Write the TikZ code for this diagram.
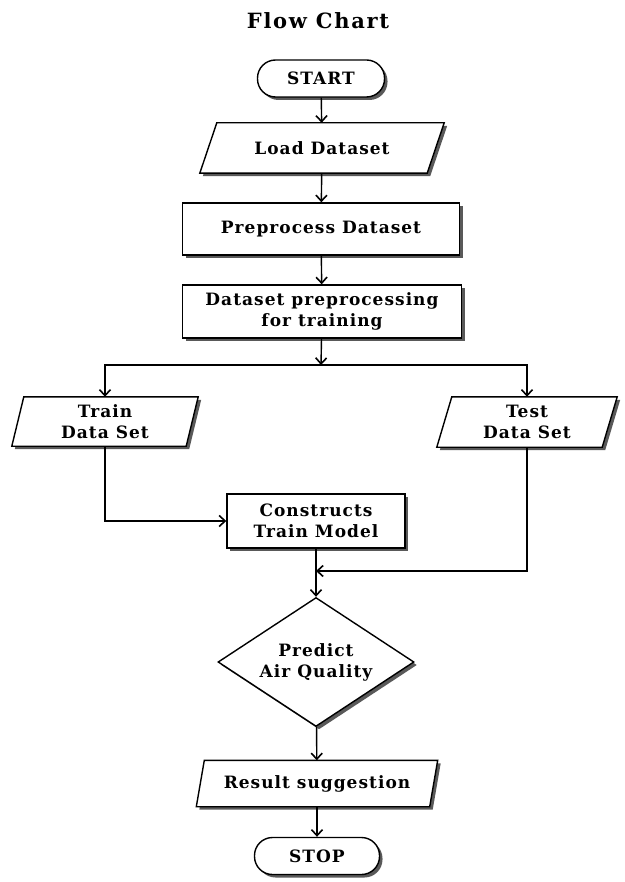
\documentclass[tikz,border=0pt]{standalone}
\usepackage{fontspec}
\setmainfont{DejaVu Serif}
\newfontfamily\boxfont[LetterSpace=6]{DejaVu Serif}
\newfontfamily\titlefont[LetterSpace=8]{DejaVu Serif}
\usetikzlibrary{shapes.geometric,shadows,arrows.meta}
\pgfdeclarelayer{background}
\pgfsetlayers{background,main}
\tikzset{
  shade/.style={drop shadow={shadow xshift=3pt, shadow yshift=-3pt, fill=black!65, opacity=1}},
  txt/.style={align=center, font=\boxfont\bfseries\fontsize{17}{21}\selectfont, inner sep=0pt},
  base/.style={txt, draw=black, line width=1.4pt, fill=white, shade},
  term/.style={base, rectangle, rounded corners=18pt},
  proc/.style={base, rectangle},
  io/.style={txt, rectangle},
  iobox/.style={draw=black, line width=1.4pt, fill=white, shade},
  dec/.style={base, diamond, aspect=1.5},
  arr/.style={draw=black, line width=1.4pt, -{Straight Barb[length=6pt,width=11pt,line width=1.6pt]}}
}
\newcommand{\iopar}[2]{%
  \begin{pgfonlayer}{background}
  \path[iobox] ([xshift=-#2pt]#1.south west) -- ([xshift=#2pt]#1.north west)
     -- ([xshift=#2pt]#1.north east) -- ([xshift=-#2pt]#1.south east) -- cycle;
  \end{pgfonlayer}}
\begin{document}
\begin{tikzpicture}[x=1pt,y=-1pt]
\useasboundingbox (0,0) rectangle (624,882);
\node[font=\titlefont\bfseries\fontsize{21}{24}\selectfont, inner sep=0pt] (title) at (318,21) {Flow Chart};
\node[term, minimum width=127pt, minimum height=37pt] (start) at (321,78.5) {START};
\node[io, minimum width=227pt, minimum height=50pt] (load) at (322,148) {Load Dataset};
\iopar{load}{8.5}
\node[proc, minimum width=277pt, minimum height=52pt] (prep) at (321,229) {Preprocess Dataset};
\node[proc, minimum width=279pt, minimum height=53pt] (dpt) at (322,311.5) {Dataset preprocessing\\for training};
\coordinate (j) at (321,365);
\node[io, minimum width=174pt, minimum height=49pt] (train) at (105,421.5) {Train\\Data Set};
\iopar{train}{6}
\node[io, minimum width=165pt, minimum height=50pt] (test) at (527,422) {Test\\Data Set};
\iopar{test}{7.5}
\node[proc, minimum width=178pt, minimum height=54pt] (cons) at (316,521) {Constructs\\Train Model};
\node[dec, minimum width=196pt, minimum height=129pt] (dia) at (316,662) {Predict\\Air Quality};
\coordinate (m) at (316,571);
\node[io, minimum width=233pt, minimum height=46pt] (res) at (317,783.5) {Result suggestion};
\iopar{res}{4}
\node[term, minimum width=125pt, minimum height=37pt] (stop) at (317,856) {STOP};

\draw[arr] (start) -- (load);
\draw[arr] (load) -- (prep);
\draw[arr] (prep) -- (dpt);
\draw[arr] (dpt) -- (j);
\draw[arr] (j) -| (train.north);
\draw[arr] (j) -| (test.north);
\draw[arr] (train.south) |- (cons.west);
\draw[arr] (cons) -- (dia);
\draw[arr] (test.south) |- (m);
\draw[arr] (dia) -- (res);
\draw[arr] (res) -- (stop);
\end{tikzpicture}
\end{document}
